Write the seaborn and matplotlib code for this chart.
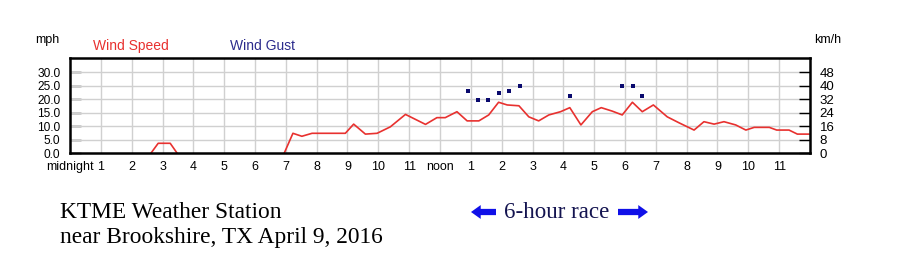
import matplotlib
matplotlib.use("Agg")
import matplotlib.pyplot as plt
import seaborn as sns
import numpy as np
import pandas as pd

# ---- data (hours since midnight, mph) ----
speed_hours = [2.63, 2.86, 3.25, 3.47, 6.95, 7.23, 7.52, 7.85, 8.93, 9.2, 9.58, 9.96,
               10.39, 10.88, 11.53, 11.9, 12.17, 12.55, 12.88, 13.26, 13.58, 13.9,
               14.18, 14.56, 14.88, 15.2, 15.53, 15.91, 16.21, 16.57, 16.94, 17.23,
               17.59, 17.91, 18.24, 18.56, 18.92, 19.37, 19.75, 20.24, 20.56, 20.89,
               21.21, 21.59, 21.92, 22.19, 22.68, 22.92, 23.32, 23.59, 23.97]
speed_mph = [0.0, 3.6, 3.6, 0.0, 0.0, 7.3, 6.2, 7.3, 7.3, 10.7, 7.0, 7.3,
             9.7, 14.3, 10.6, 13.1, 13.1, 15.3, 11.9, 11.9, 14.1, 18.8,
             17.8, 17.5, 13.4, 11.9, 14.1, 15.3, 16.8, 10.4, 15.3, 16.8,
             15.5, 14.1, 18.8, 15.3, 17.8, 13.4, 11.2, 8.5, 11.6, 10.7,
             11.6, 10.4, 8.5, 9.5, 9.5, 8.5, 8.5, 7.0, 7.0]
speed_segment = [0] * 4 + [1] * 47
gust_hours = [12.9, 13.24, 13.55, 13.9, 14.23, 14.58, 16.21, 17.91, 18.26, 18.56]
gust_mph = [23.1, 19.6, 19.6, 22.1, 23.1, 24.8, 21.2, 24.8, 24.8, 21.2]

hour_ticks = list(range(24))
hour_labels = ["midnight", "1", "2", "3", "4", "5", "6", "7", "8", "9", "10", "11",
               "noon", "1", "2", "3", "4", "5", "6", "7", "8", "9", "10", "11"]
mph_ticks = [0, 5, 10, 15, 20, 25, 30]
kmh_ticks = [0, 8, 16, 24, 32, 40, 48]

speed_df = pd.DataFrame({"hour": speed_hours, "mph": speed_mph, "seg": speed_segment})
gust_df = pd.DataFrame({"hour": gust_hours, "mph": gust_mph})

sns.set_style("white")
plt.rcParams["font.family"] = ["Liberation Sans", "DejaVu Sans"]

fig = plt.figure(figsize=(9, 2.58), dpi=100)
ax = fig.add_axes([70 / 900, 1 - 153 / 258, 740 / 900, 95 / 258])

sns.lineplot(data=speed_df, x="hour", y="mph", units="seg", estimator=None, ax=ax,
             color="#e8312f", linewidth=1.2, zorder=3)
sns.scatterplot(data=gust_df, x="hour", y="mph", ax=ax, color="#0a0a6e",
                marker="s", s=10, linewidth=0, zorder=4)

ax.set_xlim(0, 24)
ax.set_ylim(0, 35.2)
ax.set_xlabel("")
ax.set_ylabel("")

# grid
for h in range(1, 24):
    ax.axvline(h, color="#d0d0d0", linewidth=1, zorder=1)
for m in mph_ticks[1:]:
    ax.axhline(m, color="#d0d0d0", linewidth=1, zorder=1)

ax.set_xticks(hour_ticks)
ax.set_xticklabels(hour_labels, fontsize=9)
ax.set_yticks(mph_ticks)
ax.set_yticklabels([f"{v:.1f}" for v in mph_ticks], fontsize=8.6)
ax.tick_params(axis="x", direction="in", length=4, width=1, pad=6, colors="black",
               labelcolor="black")
ax.tick_params(axis="y", direction="in", length=8, width=1, pad=7, colors="black")

for sp in ax.spines.values():
    sp.set_visible(True)
    sp.set_color("black")
    sp.set_linewidth(1.8)
    sp.set_zorder(5)

ax2 = ax.twinx()
ax2.set_ylim(0, 35.2 * 48 / 30)
ax2.set_yticks(kmh_ticks)
ax2.set_yticklabels([str(v) for v in kmh_ticks], fontsize=9.5)
ax2.tick_params(axis="y", direction="in", length=8, width=1, pad=7, colors="black")
for sp in ax2.spines.values():
    sp.set_visible(False)

# header labels
fig.text(35 / 900, 1 - 40 / 258, "mph", fontsize=9, color="black", va="center")
fig.text(814 / 900, 1 - 40 / 258, "km/h", fontsize=9, color="black", va="center")
fig.text(93 / 900, 1 - 46 / 258, "Wind Speed", fontsize=10, color="#e8312f", va="center")
fig.text(230 / 900, 1 - 46 / 258, "Wind Gust", fontsize=10, color="#2b2b8c", va="center")

# caption
serif = ["Liberation Serif", "DejaVu Serif"]
fig.text(60 / 900, 1 - 212 / 258, "KTME Weather Station", fontsize=16.8,
         family=serif, color="black", va="center")
fig.text(60 / 900, 1 - 238 / 258, "near Brookshire, TX April 9, 2016", fontsize=16.8,
         family=serif, color="black", va="center")
fig.text(557 / 900, 1 - 212 / 258, "6-hour race", fontsize=16.6, family=serif,
         color="#141450", va="center", ha="center")
arrow_kw = dict(arrowstyle="simple,head_width=1.0,head_length=0.7,tail_width=0.45",
                color="#1010e8", lw=0, shrinkA=0, shrinkB=0)
ax.annotate("", xy=(471 / 900, 1 - 212 / 258), xytext=(496 / 900, 1 - 212 / 258),
            xycoords="figure fraction", textcoords="figure fraction",
            arrowprops=arrow_kw, annotation_clip=False)
ax.annotate("", xy=(648 / 900, 1 - 212 / 258), xytext=(618 / 900, 1 - 212 / 258),
            xycoords="figure fraction", textcoords="figure fraction",
            arrowprops=arrow_kw, annotation_clip=False)

fig.savefig("out.png", dpi=100, facecolor="white")
